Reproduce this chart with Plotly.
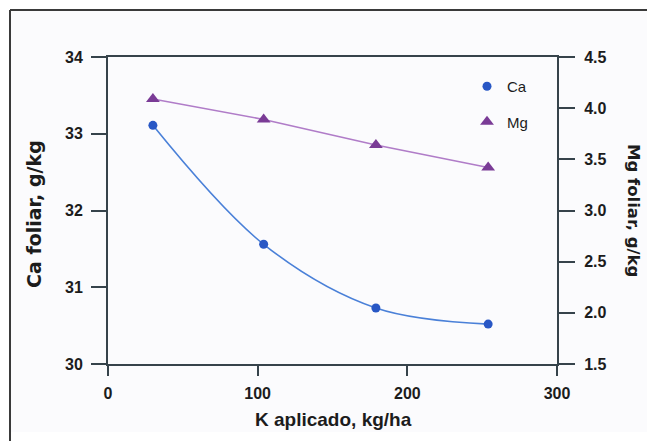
import plotly.graph_objects as go

# Data
k_aplicado = [30, 104, 179, 254]          # K aplicado, kg/ha
ca_foliar = [33.11, 31.56, 30.73, 30.52]  # Ca foliar, g/kg (left axis)
mg_foliar = [4.09, 3.89, 3.64, 3.42]      # Mg foliar, g/kg (right axis)

x_ticks = [0, 100, 200, 300]
y_ticks = [30, 31, 32, 33, 34]
y2_ticks = [1.5, 2.0, 2.5, 3.0, 3.5, 4.0, 4.5]

AXIS = "#36434b"
TXT = "#1c1c1c"
BG = "#fbfbfd"
FONT = "Liberation Sans, Arial, sans-serif"

W, H = 647, 441
# plot area in window pixels: x 108..557, y 57..364
L, T = 108, 57
R = W - 557
B = H - 364
pw, ph = W - L - R, H - T - B


def px_x(p):  # window pixel -> paper x
    return (p - L) / pw


def px_y(p):  # window pixel -> paper y
    return (H - B - p) / ph


fig = go.Figure()
# curves (no legend)
fig.add_trace(go.Scatter(
    x=k_aplicado, y=ca_foliar, mode="lines", showlegend=False, hoverinfo="skip",
    line=dict(color="#4a80d8", width=1.6, shape="spline", smoothing=1.0),
    yaxis="y",
))
fig.add_trace(go.Scatter(
    x=k_aplicado, y=mg_foliar, mode="lines", showlegend=False, hoverinfo="skip",
    line=dict(color="#b07cc8", width=1.6),
    yaxis="y2",
))
# markers (legend entries)
fig.add_trace(go.Scatter(
    x=k_aplicado, y=ca_foliar, name="Ca", mode="markers",
    marker=dict(symbol="circle", size=9, color="#2857c5"),
    yaxis="y", legendgroup="ca",
))
fig.add_trace(go.Scatter(
    x=k_aplicado, y=mg_foliar, name="Mg", mode="markers",
    marker=dict(symbol="triangle-up", size=12, color="#7a3b96"),
    yaxis="y2", legendgroup="mg",
))

tickfont = dict(family=FONT, size=16, color=TXT, weight="bold")

fig.update_layout(
    width=W, height=H,
    margin=dict(l=L, r=R, t=T, b=B),
    paper_bgcolor="white",
    plot_bgcolor=BG,
    showlegend=True,
    legend=dict(
        x=px_x(467), y=px_y(70), xanchor="left", yanchor="top",
        bgcolor="rgba(0,0,0,0)", font=dict(family=FONT, size=15, color=TXT),
        traceorder="grouped", tracegroupgap=13, itemwidth=30,
    ),
    xaxis=dict(
        range=[0, 300], tickvals=x_ticks, ticks="outside", ticklen=10, tickwidth=2,
        tickcolor=AXIS, showline=True, linecolor=AXIS, linewidth=2, mirror=True,
        showgrid=False, zeroline=False, tickfont=tickfont, ticklabelstandoff=4,
    ),
    yaxis=dict(
        range=[30, 34], tickvals=y_ticks, ticks="outside", ticklen=15, tickwidth=2,
        tickcolor=AXIS, showline=True, linecolor=AXIS, linewidth=2,
        showgrid=False, zeroline=False, tickfont=tickfont, ticklabelstandoff=5,
    ),
    yaxis2=dict(
        range=[1.5, 4.5], tickvals=y2_ticks, tickformat=".1f", ticks="outside",
        ticklen=16, tickwidth=2, tickcolor=AXIS, showline=True, linecolor=AXIS,
        linewidth=2, showgrid=False, zeroline=False, overlaying="y", side="right",
        tickfont=tickfont, ticklabelstandoff=6,
    ),
    shapes=[
        dict(type="rect", xref="paper", yref="paper", layer="below",
             x0=px_x(10), x1=px_x(700), y0=px_y(432), y1=px_y(10),
             fillcolor=BG, line=dict(width=0)),
        dict(type="line", xref="paper", yref="paper",
             x0=px_x(10), x1=px_x(10), y0=px_y(460), y1=px_y(10),
             line=dict(color="#3a3a3a", width=2)),
        dict(type="line", xref="paper", yref="paper",
             x0=px_x(10), x1=px_x(700), y0=px_y(10), y1=px_y(10),
             line=dict(color="#3a3a3a", width=2)),
    ],
    annotations=[
        dict(text="K aplicado, kg/ha", xref="paper", yref="paper",
             x=px_x(333), y=px_y(419), xanchor="center", yanchor="middle",
             showarrow=False, font=dict(family=FONT, size=19, color=TXT, weight="bold")),
        dict(text="Ca foliar, g/kg", xref="paper", yref="paper",
             x=px_x(34), y=px_y(214), xanchor="center", yanchor="middle",
             textangle=-90, showarrow=False,
             font=dict(family="DejaVu Sans, sans-serif", size=19, color=TXT, weight="bold")),
        dict(text="Mg foliar, g/kg", xref="paper", yref="paper",
             x=px_x(634), y=px_y(210), xanchor="center", yanchor="middle",
             textangle=90, showarrow=False,
             font=dict(family="DejaVu Sans, sans-serif", size=16.5, color=TXT, weight="bold")),
    ],
)

# remove the default page margin and scrollbars so the figure fills the window exactly
page_js = (
    "document.body.style.margin='0';"
    "document.body.style.overflow='hidden';"
    "document.documentElement.style.overflow='hidden';"
)
fig.write_html("out.html", post_script=page_js, config={"displayModeBar": False})
